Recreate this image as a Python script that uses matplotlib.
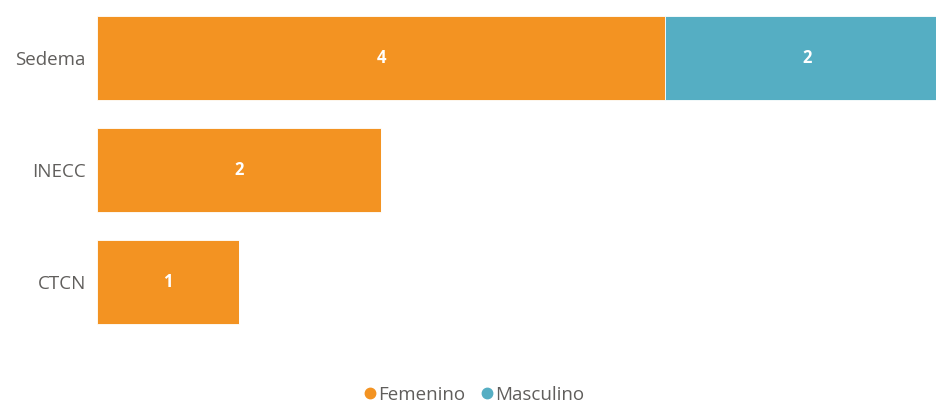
import numpy as np
import matplotlib.pyplot as plt

categories = ['Sedema', 'INECC', 'CTCN']
femenino = [4, 2, 1]
masculino = [2, 0, 0]

orange = '#F39322'
teal = '#55AEC3'
gray = '#605E5C'

plt.rcParams['font.family'] = ['Open Sans', 'DejaVu Sans']

fig = plt.figure(figsize=(9.37, 4.05), dpi=100)
ax = fig.add_axes([97 / 937, 1 - 338.5 / 405, 1 - 97 / 937, 336.5 / 405])

y = np.arange(len(categories))
ax.barh(y, femenino, height=0.75, color=orange, edgecolor='white', linewidth=0.6, label='Femenino')
ax.barh(y, masculino, left=femenino, height=0.75, color=teal, edgecolor='white', linewidth=0.6, label='Masculino')

for i in range(len(categories)):
    if femenino[i] > 0:
        ax.text(femenino[i] / 2, i, str(femenino[i]), ha='center', va='center',
                color='white', fontsize=12, fontweight='bold')
    if masculino[i] > 0:
        ax.text(femenino[i] + masculino[i] / 2, i, str(masculino[i]), ha='center', va='center',
                color='white', fontsize=12, fontweight='bold')

ax.set_xlim(0, 5.915)
ax.set_ylim(len(categories) - 0.5, -0.5)
ax.set_yticks(y)
ax.set_yticklabels(categories, color=gray, fontsize=13.5)
ax.set_xticks([])
ax.tick_params(axis='y', length=0, pad=8)
for s in ax.spines.values():
    s.set_visible(False)

h, l = ax.get_legend_handles_labels()
handles = [plt.Line2D([], [], marker='o', linestyle='', color=orange, markersize=7.5),
           plt.Line2D([], [], marker='o', linestyle='', color=teal, markersize=7.5)]
fig.legend(handles, l, loc='center', bbox_to_anchor=(473 / 937, 1 - 395 / 405), ncol=2,
           frameon=False, fontsize=13.5, labelcolor=gray, handletextpad=0.0,
           columnspacing=0.7, handlelength=0.9)

fig.savefig('out.png', dpi=100)
